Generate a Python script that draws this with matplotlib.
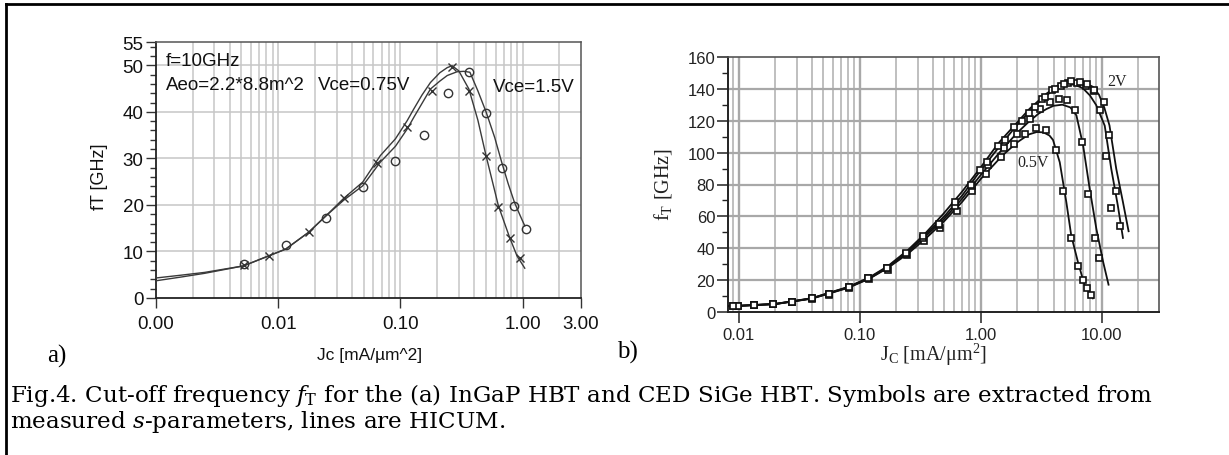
import matplotlib
matplotlib.use("Agg")
import matplotlib.pyplot as plt
from matplotlib.ticker import FixedLocator, FixedFormatter, LogLocator, MultipleLocator, NullFormatter
from matplotlib.lines import Line2D

# ---------------- data: panel (a) InGaP HBT ----------------
a_x_ticks = [0.001, 0.01, 0.1, 1.0, 3.0]
a_x_labels = ["0.00", "0.01", "0.10", "1.00", "3.00"]
a_y_ticks = [0, 10, 20, 30, 40, 50, 55]

# measured, Vce=0.75V (crosses)
a075_J = [0.0052, 0.00834, 0.0177, 0.0343, 0.0644, 0.1135, 0.182, 0.265, 0.363, 0.498, 0.633, 0.782, 0.944]
a075_fT = [7.1, 9.0, 14.1, 21.5, 29.1, 36.8, 44.5, 49.6, 44.4, 30.6, 19.6, 12.9, 8.7]
# measured, Vce=1.5V (circles)
a15_J = [0.0052, 0.0115, 0.0247, 0.0491, 0.091, 0.156, 0.247, 0.363, 0.503, 0.673, 0.855, 1.07]
a15_fT = [7.2, 11.4, 17.1, 23.8, 29.4, 35.0, 44.0, 48.6, 39.7, 28.0, 19.8, 14.8]
# HICUM lines
a075_line_J = [0.001, 0.0016, 0.0025, 0.0052, 0.0115, 0.0177, 0.0247, 0.0343, 0.0491, 0.0685, 0.091,
               0.1135, 0.1285, 0.15, 0.176, 0.21, 0.2415, 0.265, 0.30, 0.363, 0.43, 0.498, 0.633,
               0.782, 0.90, 1.04]
a075_line_fT = [3.7, 4.5, 5.3, 6.9, 10.5, 14.1, 17.7, 21.4, 24.9, 30.6, 34.2,
                38.1, 40.6, 43.6, 46.3, 48.4, 49.5, 49.9, 48.8, 44.9, 38.2, 30.9, 19.8,
                13.0, 9.0, 6.4]
a15_line_J = [0.001, 0.0016, 0.0025, 0.0052, 0.0115, 0.0177, 0.0247, 0.0343, 0.0491, 0.0685, 0.091,
              0.1135, 0.1285, 0.15, 0.176, 0.21, 0.2415, 0.29, 0.33, 0.37, 0.43, 0.503, 0.59,
              0.673, 0.76, 0.855, 0.95, 1.04]
a15_line_fT = [4.3, 4.9, 5.5, 6.9, 10.5, 14.1, 17.7, 21.0, 24.1, 29.2, 32.6,
               36.3, 38.8, 41.8, 44.9, 46.6, 47.8, 48.6, 48.7, 48.5, 44.5, 39.9, 34.5,
               29.2, 24.6, 20.6, 17.8, 15.5]

# ---------------- data: panel (b) CED SiGe HBT ----------------
b_x_ticks = [0.01, 0.1, 1.0, 10.0, 30.0]
b_x_labels = ["0.01", "0.10", "1.00", "10.00", "30.00"]
b_y_ticks = [0, 20, 40, 60, 80, 100, 120, 140, 160]

b1_J = [0.009, 0.0134, 0.019, 0.0276, 0.040, 0.0557, 0.082, 0.118, 0.17, 0.245, 0.34, 0.46, 0.63, 0.848,
        1.11, 1.46, 1.875, 2.34, 2.89, 3.49, 4.17, 4.82, 5.57, 6.33, 7.02, 7.57, 8.22]
b1_fT = [3.6, 4.1, 4.8, 6.2, 8.2, 10.8, 15.0, 20.5, 26.5, 35.5, 44.5, 52.5, 63.5, 75.6,
         86.7, 97.3, 105.6, 111.9, 115.5, 114.0, 101.4, 75.6, 46.2, 28.6, 20.2, 14.7, 10.5]
b2_J = [0.0099, 0.0134, 0.019, 0.0276, 0.040, 0.0557, 0.082, 0.117, 0.168, 0.243, 0.33, 0.45, 0.61, 0.84,
        1.15, 1.55, 2.0, 2.55, 3.11, 3.72, 4.41, 5.21, 6.07, 6.88, 7.76, 8.87, 9.45]
b2_fT = [3.8, 4.2, 4.9, 6.3, 8.4, 11.1, 15.4, 21.0, 27.3, 36.5, 46.5, 54.5, 66.5, 79.0,
         92.0, 103.0, 112.0, 121.0, 127.7, 131.9, 133.6, 133.4, 127.1, 106.7, 74.1, 46.4, 33.8]
b3_J = [0.0099, 0.019, 0.04, 0.082, 0.168, 0.33, 0.61, 0.98, 1.4, 1.9, 2.5, 3.2, 3.9, 4.6, 5.27, 6.25,
        7.47, 8.64, 9.75, 10.9, 12.0]
b3_fT = [3.8, 4.9, 8.4, 15.4, 27.3, 47.5, 68.9, 89.0, 104.0, 116.0, 125.0, 134.0, 139.5, 142.0, 144.0, 143.8,
         142.0, 138.6, 127.1, 97.9, 65.1]
b4_J = [0.009, 0.0134, 0.0276, 0.0557, 0.117, 0.243, 0.452, 0.837, 1.127, 1.6, 2.2, 2.8, 3.4, 4.1, 4.9,
        5.6, 6.6, 7.5, 8.64, 10.4, 11.5, 13.1, 14.3]
b4_fT = [3.8, 4.2, 6.3, 11.1, 21.0, 37.0, 55.2, 79.4, 94.1, 108.0, 120.0, 128.5, 135.0, 140.0, 143.5,
         145.1, 144.5, 143.4, 139.5, 131.9, 110.9, 75.8, 53.8]

b1_line_J = [0.0081, 0.01, 0.02, 0.04, 0.08, 0.12, 0.17, 0.25, 0.35, 0.5, 0.7, 1.0, 1.5, 2.0, 2.5, 2.9,
             3.3, 3.7, 3.96, 4.5, 5.1, 5.6, 6.37, 7.24, 8.47]
b1_line_fT = [3.5, 3.7, 4.8, 8.2, 15.0, 20.8, 27.5, 36.5, 46.0, 57.0, 69.0, 83.5, 98.0, 106.5, 111.5, 113.0,
              112.8, 110.8, 108.0, 94.0, 69.0, 48.0, 31.1, 16.4, 8.4]
b2_line_J = [0.0081, 0.01, 0.02, 0.04, 0.08, 0.12, 0.17, 0.25, 0.35, 0.5, 0.7, 1.0, 1.5, 2.0, 2.5, 3.0,
             3.5, 4.0, 4.73, 5.5, 6.18, 7.02, 7.96, 9.04, 10.3, 11.4]
b2_line_fT = [3.5, 3.7, 4.8, 8.3, 15.2, 21.0, 27.8, 37.5, 47.5, 58.5, 71.0, 86.0, 102.0, 112.5, 119.5, 124.5,
              127.5, 129.5, 130.2, 128.5, 123.5, 104.6, 77.3, 52.1, 31.1, 17.0]
b3_line_J = [0.0081, 0.01, 0.02, 0.04, 0.08, 0.12, 0.17, 0.25, 0.35, 0.5, 0.7, 1.0, 1.5, 2.0, 2.5, 3.0,
             3.5, 4.0, 5.0, 6.0, 7.0, 8.0, 9.0, 10.6, 12.0, 13.6, 15.0]
b3_line_fT = [3.5, 3.7, 4.9, 8.4, 15.4, 21.3, 28.2, 38.2, 48.5, 60.0, 73.0, 89.0, 106.0, 117.5, 125.5, 131.5,
              136.0, 139.5, 143.0, 142.8, 140.5, 136.0, 130.0, 117.0, 89.9, 66.8, 46.4]
b4_line_J = [0.0081, 0.01, 0.02, 0.04, 0.08, 0.12, 0.17, 0.25, 0.35, 0.49, 0.7, 0.98, 1.4, 1.85, 2.54, 3.49,
             4.79, 5.5, 6.58, 7.5, 8.47, 9.5, 10.5, 11.6, 13.2, 15.0, 16.7]
b4_line_fT = [3.5, 3.7, 4.9, 8.5, 15.6, 21.6, 28.6, 38.8, 49.5, 61.5, 75.5, 89.9, 106.0, 116.2, 127.7, 137.1,
              144.5, 145.5, 144.9, 143.5, 141.4, 136.5, 128.5, 117.2, 89.9, 68.9, 50.6]

# ---------------- figure ----------------
plt.rcParams['mathtext.fontset'] = 'custom'
plt.rcParams['mathtext.rm'] = 'Liberation Serif'
plt.rcParams['mathtext.it'] = 'Liberation Serif:italic'
SANS = 'Liberation Sans'
SERIF = 'Liberation Serif'

W, H = 1229, 456
fig = plt.figure(figsize=(W / 100, H / 100), dpi=100)


def fx(px):
    return px / W


def fy(py):
    return 1 - py / H


# -------- panel (a) --------
axa = fig.add_axes([fx(156), fy(299), fx(581 - 156), (299 - 43) / H])
axa.set_xscale('log')
axa.set_xlim(0.001, 3.0)
axa.set_ylim(0, 55)
axa.xaxis.set_major_locator(FixedLocator(a_x_ticks))
axa.xaxis.set_major_formatter(FixedFormatter(a_x_labels))
axa.xaxis.set_minor_locator(LogLocator(base=10, subs=[2, 3, 4, 5, 6, 7, 8, 9], numticks=20))
axa.xaxis.set_minor_formatter(NullFormatter())
axa.yaxis.set_major_locator(FixedLocator(a_y_ticks))
axa.yaxis.set_minor_locator(FixedLocator([2, 4, 6, 8, 12, 14, 16, 18, 22, 24, 26, 28, 32, 34, 36, 38,
                                          42, 44, 46, 48, 52, 54]))
gc_a = '#c6c6c6'
for v in [0.002, 0.003, 0.004, 0.005, 0.006, 0.007, 0.008, 0.009, 0.01,
          0.02, 0.03, 0.04, 0.05, 0.06, 0.07, 0.08, 0.09, 0.1,
          0.2, 0.3, 0.4, 0.5, 0.6, 0.7, 0.8, 0.9, 1.0, 2.0]:
    axa.axvline(v, color=gc_a, lw=1.1, zorder=0)
for v in [10, 20, 30, 40, 50]:
    axa.axhline(v, color=gc_a, lw=1.1, zorder=0)
axa.tick_params(axis='both', which='major', direction='out', length=7, width=1.0, color='#333333',
                labelsize=13.5, labelcolor='#111111')
axa.tick_params(axis='x', which='major', pad=5)
axa.tick_params(axis='y', which='major', pad=2)
axa.tick_params(axis='x', which='minor', length=0)
axa.tick_params(axis='y', which='minor', direction='out', length=4, width=1.0, color='#333333')
for lab in axa.get_xticklabels() + axa.get_yticklabels():
    lab.set_fontfamily(SANS)
for s in ['left', 'bottom']:
    axa.spines[s].set_color('#222222')
    axa.spines[s].set_linewidth(1.3)
for s in ['top', 'right']:
    axa.spines[s].set_color('#555555')
    axa.spines[s].set_linewidth(1.1)

axa.plot(a075_line_J, a075_line_fT, color='#3a3a3a', lw=1.0, zorder=3)
axa.plot(a15_line_J, a15_line_fT, color='#3a3a3a', lw=1.0, zorder=3)
axa.plot(a075_J, a075_fT, linestyle='none', marker='x', ms=6, mew=1.0, color='#333333', zorder=4)
axa.plot(a15_J, a15_fT, linestyle='none', marker='o', ms=6, mew=1.0, mfc='none', mec='#333333', zorder=4)

axa.text(fx(166), fy(62), 'f=10GHz', transform=fig.transFigure, family=SANS, fontsize=13.5,
         va='center', ha='left', color='#111111')
axa.text(fx(166), fy(85), 'Aeo=2.2*8.8m^2', transform=fig.transFigure, family=SANS, fontsize=13.5,
         va='center', ha='left', color='#111111')
axa.text(fx(318), fy(85), 'Vce=0.75V', transform=fig.transFigure, family=SANS, fontsize=13.5,
         va='center', ha='left', color='#111111')
axa.text(fx(493), fy(87), 'Vce=1.5V', transform=fig.transFigure, family=SANS, fontsize=13.5,
         va='center', ha='left', color='#111111')
fig.text(fx(100), fy(177), 'fT [GHz]', family=SANS, fontsize=13, rotation=90, ha='center', va='center',
         color='#111111')
fig.text(fx(370), fy(356), 'Jc [mA/µm^2]', family=SANS, fontsize=12.5, ha='center', va='center',
         color='#111111')
fig.text(fx(47), fy(356), 'a)', family=SERIF, fontsize=18, ha='left', va='center')

# -------- panel (b) --------
axb = fig.add_axes([fx(727.7), fy(312.7), fx(1159 - 727.7), (312.7 - 58.3) / H])
axb.set_xscale('log')
axb.set_xlim(0.00807, 29.8)
axb.set_ylim(0, 160)
axb.xaxis.set_major_locator(FixedLocator(b_x_ticks))
axb.xaxis.set_major_formatter(FixedFormatter(b_x_labels))
axb.xaxis.set_minor_formatter(NullFormatter())
axb.yaxis.set_major_locator(FixedLocator(b_y_ticks))
axb.yaxis.set_minor_locator(MultipleLocator(10))
gc_b = '#b4b4b4'
for v in [0.009, 0.02, 0.03, 0.04, 0.05, 0.06, 0.07, 0.08, 0.09,
          0.2, 0.3, 0.4, 0.5, 0.6, 0.7, 0.8, 0.9,
          2, 3, 4, 5, 6, 7, 8, 9, 20]:
    axb.axvline(v, color=gc_b, lw=1.2, zorder=0)
for v in [0.01, 0.1, 1.0, 10.0]:
    axb.axvline(v, color='#a8a8a8', lw=1.7, zorder=0)
for v in [20, 40, 60, 80, 100, 120, 140]:
    axb.axhline(v, color='#a8a8a8', lw=1.6, zorder=0)
axb.tick_params(axis='both', which='major', direction='out', length=8, width=1.1, color='#222222',
                labelsize=12, labelcolor='#222222')
axb.tick_params(axis='x', which='major', pad=3)
axb.tick_params(axis='y', which='major', pad=1)
axb.tick_params(axis='x', which='minor', length=0)
axb.tick_params(axis='y', which='minor', direction='out', length=4, width=1.0, color='#222222')
for lab in axb.get_xticklabels() + axb.get_yticklabels():
    lab.set_fontfamily(SANS)
for s in ['left', 'bottom']:
    axb.spines[s].set_color('#222222')
    axb.spines[s].set_linewidth(1.4)
for s in ['top', 'right']:
    axb.spines[s].set_color('#555555')
    axb.spines[s].set_linewidth(1.2)

for lj, lf in [(b1_line_J, b1_line_fT), (b2_line_J, b2_line_fT), (b3_line_J, b3_line_fT),
               (b4_line_J, b4_line_fT)]:
    axb.plot(lj, lf, color='#111111', lw=1.3, zorder=3)
for mj, mf in [(b1_J, b1_fT), (b2_J, b2_fT), (b3_J, b3_fT), (b4_J, b4_fT)]:
    axb.plot(mj, mf, linestyle='none', marker='s', ms=5, mew=1.2, mfc='white', mec='#111111', zorder=4)

fig.text(fx(1107), fy(82), '2V', family=SERIF, fontsize=11.5, ha='left', va='center', color='#222222')
fig.text(fx(1017), fy(163), '0.5V', family=SERIF, fontsize=11.5, ha='left', va='center', color='#222222')
fig.text(fx(663), fy(185), r'f$_\mathrm{T}$ [GHz]', family=SERIF, fontsize=14.5, rotation=90,
         ha='center', va='center', color='#222222')
fig.text(fx(933), fy(355), r'J$_\mathrm{C}$ [mA/μm$^2$]', family=SERIF, fontsize=14.5, ha='center',
         va='center', color='#222222')
fig.text(fx(617), fy(352), 'b)', family=SERIF, fontsize=18, ha='left', va='center')

# -------- caption --------
CAP = 'DejaVu Serif'
fig.text(fx(10), fy(396), r'Fig.4. Cut-off frequency $f_\mathrm{T}$ for the (a) InGaP HBT and CED SiGe HBT. '
         'Symbols are extracted from', family=CAP, math_fontfamily='dejavuserif', fontsize=16.6,
         ha='left', va='center')
fig.text(fx(10), fy(422), r'measured $s$-parameters, lines are HICUM.', family=CAP,
         math_fontfamily='dejavuserif', fontsize=16.6, ha='left', va='center')

# -------- border --------
fig.add_artist(Line2D([fx(6.5), fx(6.5)], [fy(5), fy(470)], transform=fig.transFigure, color='black', lw=2))
fig.add_artist(Line2D([fx(5.5), fx(1240)], [fy(5), fy(5)], transform=fig.transFigure, color='black', lw=2))

fig.savefig('out.png', dpi=100)
